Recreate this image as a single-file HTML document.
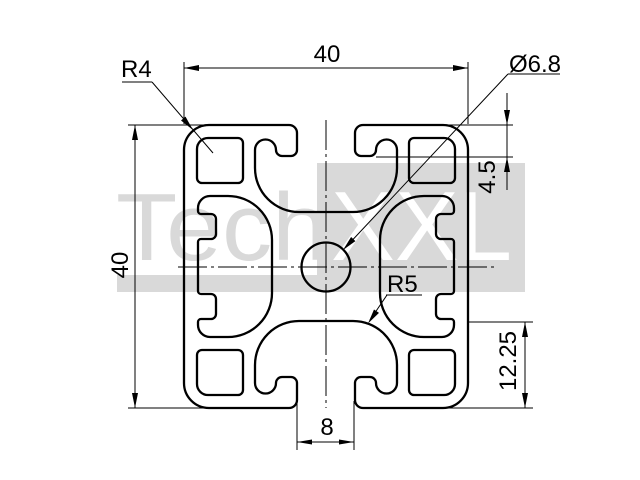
<!DOCTYPE html>
<html><head><meta charset="utf-8"><style>
html,body{margin:0;padding:0;background:#fff;}
svg{display:block;}
text{font-family:"Liberation Sans",Arial,sans-serif;}
</style></head><body>
<svg width="640" height="480" viewBox="0 0 640 480" xmlns="http://www.w3.org/2000/svg">
<rect width="640" height="480" fill="#fff"/>
<!-- watermark -->
<text x="116" y="260" font-size="96" fill="#d9d9d9" textLength="212" lengthAdjust="spacingAndGlyphs">Tech</text>
<rect x="317" y="163" width="208" height="129" fill="#d9d9d9"/>
<rect x="117" y="275" width="408" height="17" fill="#d9d9d9"/>
<text x="331" y="260" font-size="98" fill="#fff" textLength="181" lengthAdjust="spacingAndGlyphs">XXL</text>

<!-- centerlines -->
<g stroke="#000" stroke-width="1" fill="none">
<line x1="326" y1="120" x2="326" y2="408" stroke-dasharray="30 4 3 4"/>
<line x1="178" y1="267" x2="498" y2="267" stroke-dasharray="29 4 3 4"/>
</g>

<!-- profile -->
<g stroke="#000" stroke-width="2.3" fill="none" stroke-linejoin="round">
<path d="M184,150 A25,25 0 0 1 209,125 H289 A8,8 0 0 1 297,133 V150 A6,6 0 0 1 291,156 H282 A6,6 0 0 1 276,150 A10.5,10.5 0 0 0 255,150 V168 A44,44 0 0 0 299,212 H353 A44,44 0 0 0 397,168 V150 A10.5,10.5 0 0 0 376,150 A6,6 0 0 1 370,156 H361 A6,6 0 0 1 355,150 V133 A8,8 0 0 1 363,125 H443 A25,25 0 0 1 468,150 V383 A25,25 0 0 1 443,408 H363 A8,8 0 0 1 355,400 V383 A6,6 0 0 1 361,377 H370 A6,6 0 0 1 376,383 A10.5,10.5 0 0 0 397,383 V365 A44,44 0 0 0 353,321 H299 A44,44 0 0 0 255,365 V383 A10.5,10.5 0 0 0 276,383 A6,6 0 0 1 282,377 H291 A6,6 0 0 1 297,383 V400 A8,8 0 0 1 289,408 H209 A25,25 0 0 1 184,383 Z"/>
<path id="hole" d="M208,138 H238 A5,5 0 0 1 243,143 V178 A5,5 0 0 1 238,183 H202 A5,5 0 0 1 197,178 V149 A11,11 0 0 1 208,138 Z"/>
<path d="M208,138 H238 A5,5 0 0 1 243,143 V178 A5,5 0 0 1 238,183 H202 A5,5 0 0 1 197,178 V149 A11,11 0 0 1 208,138 Z" transform="matrix(-1 0 0 1 652 0)"/>
<path d="M208,138 H238 A5,5 0 0 1 243,143 V178 A5,5 0 0 1 238,183 H202 A5,5 0 0 1 197,178 V149 A11,11 0 0 1 208,138 Z" transform="matrix(1 0 0 -1 0 533)"/>
<path d="M208,138 H238 A5,5 0 0 1 243,143 V178 A5,5 0 0 1 238,183 H202 A5,5 0 0 1 197,178 V149 A11,11 0 0 1 208,138 Z" transform="matrix(-1 0 0 -1 652 533)"/>
<path d="M210,196 H228 A44,44 0 0 1 272,240 V293 A44,44 0 0 1 228,337 H210 A12,12 0 0 1 198,325 V322 A3,3 0 0 1 201,319 H211 A5,5 0 0 0 216,314 V299 A5,5 0 0 0 211,294 H201 A3,3 0 0 1 198,291 V242 A3,3 0 0 1 201,239 H211 A5,5 0 0 0 216,234 V219 A5,5 0 0 0 211,214 H201 A3,3 0 0 1 198,211 V208 A12,12 0 0 1 210,196 Z"/>
<path d="M210,196 H228 A44,44 0 0 1 272,240 V293 A44,44 0 0 1 228,337 H210 A12,12 0 0 1 198,325 V322 A3,3 0 0 1 201,319 H211 A5,5 0 0 0 216,314 V299 A5,5 0 0 0 211,294 H201 A3,3 0 0 1 198,291 V242 A3,3 0 0 1 201,239 H211 A5,5 0 0 0 216,234 V219 A5,5 0 0 0 211,214 H201 A3,3 0 0 1 198,211 V208 A12,12 0 0 1 210,196 Z" transform="matrix(-1 0 0 1 652 0)"/>
<circle cx="326" cy="267" r="24.5"/>
</g>

<!-- dimension lines -->
<g stroke="#000" stroke-width="1" fill="none">
<!-- top 40 -->
<line x1="184" y1="62" x2="184" y2="124"/>
<line x1="468" y1="62" x2="468" y2="124"/>
<line x1="184" y1="68" x2="468" y2="68"/>
<!-- left 40 -->
<line x1="128" y1="125" x2="209" y2="125"/>
<line x1="128" y1="408" x2="209" y2="408"/>
<line x1="135" y1="125" x2="135" y2="408"/>
<!-- 4.5 -->
<line x1="440" y1="125" x2="513" y2="125"/>
<line x1="376" y1="157" x2="513" y2="157"/>
<line x1="507" y1="93" x2="507" y2="190"/>
<!-- 12.25 -->
<line x1="468" y1="322" x2="533" y2="322"/>
<line x1="443" y1="408" x2="533" y2="408"/>
<line x1="525" y1="322" x2="525" y2="408"/>
<!-- 8 -->
<line x1="297" y1="401" x2="297" y2="450"/>
<line x1="354" y1="401" x2="354" y2="450"/>
<line x1="297" y1="442" x2="354" y2="442"/>
<!-- R4 leader -->
<line x1="122" y1="82" x2="152" y2="82"/>
<line x1="152" y1="82" x2="213" y2="153"/>
<!-- Ø6.8 leader -->
<line x1="508" y1="74" x2="560" y2="74"/>
<line x1="508" y1="74" x2="345" y2="248"/>
<!-- R5 leader -->
<line x1="386" y1="295" x2="422" y2="295"/>
<line x1="387" y1="295" x2="370" y2="320"/>
</g>

<!-- arrowheads -->
<g fill="#000" stroke="none">
<polygon points="184,68 199,65 199,71"/>
<polygon points="468,68 453,65 453,71"/>
<polygon points="135,125 132,140 138,140"/>
<polygon points="135,408 132,393 138,393"/>
<polygon points="507,125 504,110 510,110"/>
<polygon points="507,157 504,172 510,172"/>
<polygon points="525,322 522,337 528,337"/>
<polygon points="525,408 522,393 528,393"/>
<polygon points="297,442 312,439.5 312,444.5"/>
<polygon points="354,442 339,439.5 339,444.5"/>
<polygon points="193,130 181,120.5 185.5,116.6"/>
<polygon points="343,250 355.4,241.1 351.1,237"/>
<polygon points="368,323.5 379,312.9 374,309.5"/>
</g>

<!-- labels -->
<g fill="#000" font-size="24">
<text x="327" y="62" text-anchor="middle">40</text>
<text x="121" y="77">R4</text>
<text x="509" y="72">Ø6.8</text>
<text x="387" y="292">R5</text>
<text x="327" y="435" text-anchor="middle">8</text>
<text transform="translate(128,265) rotate(-90)" text-anchor="middle">40</text>
<text transform="translate(495,177) rotate(-90)" text-anchor="middle">4.5</text>
<text transform="translate(516,361) rotate(-90)" text-anchor="middle">12.25</text>
</g>
</svg>
</body></html>
